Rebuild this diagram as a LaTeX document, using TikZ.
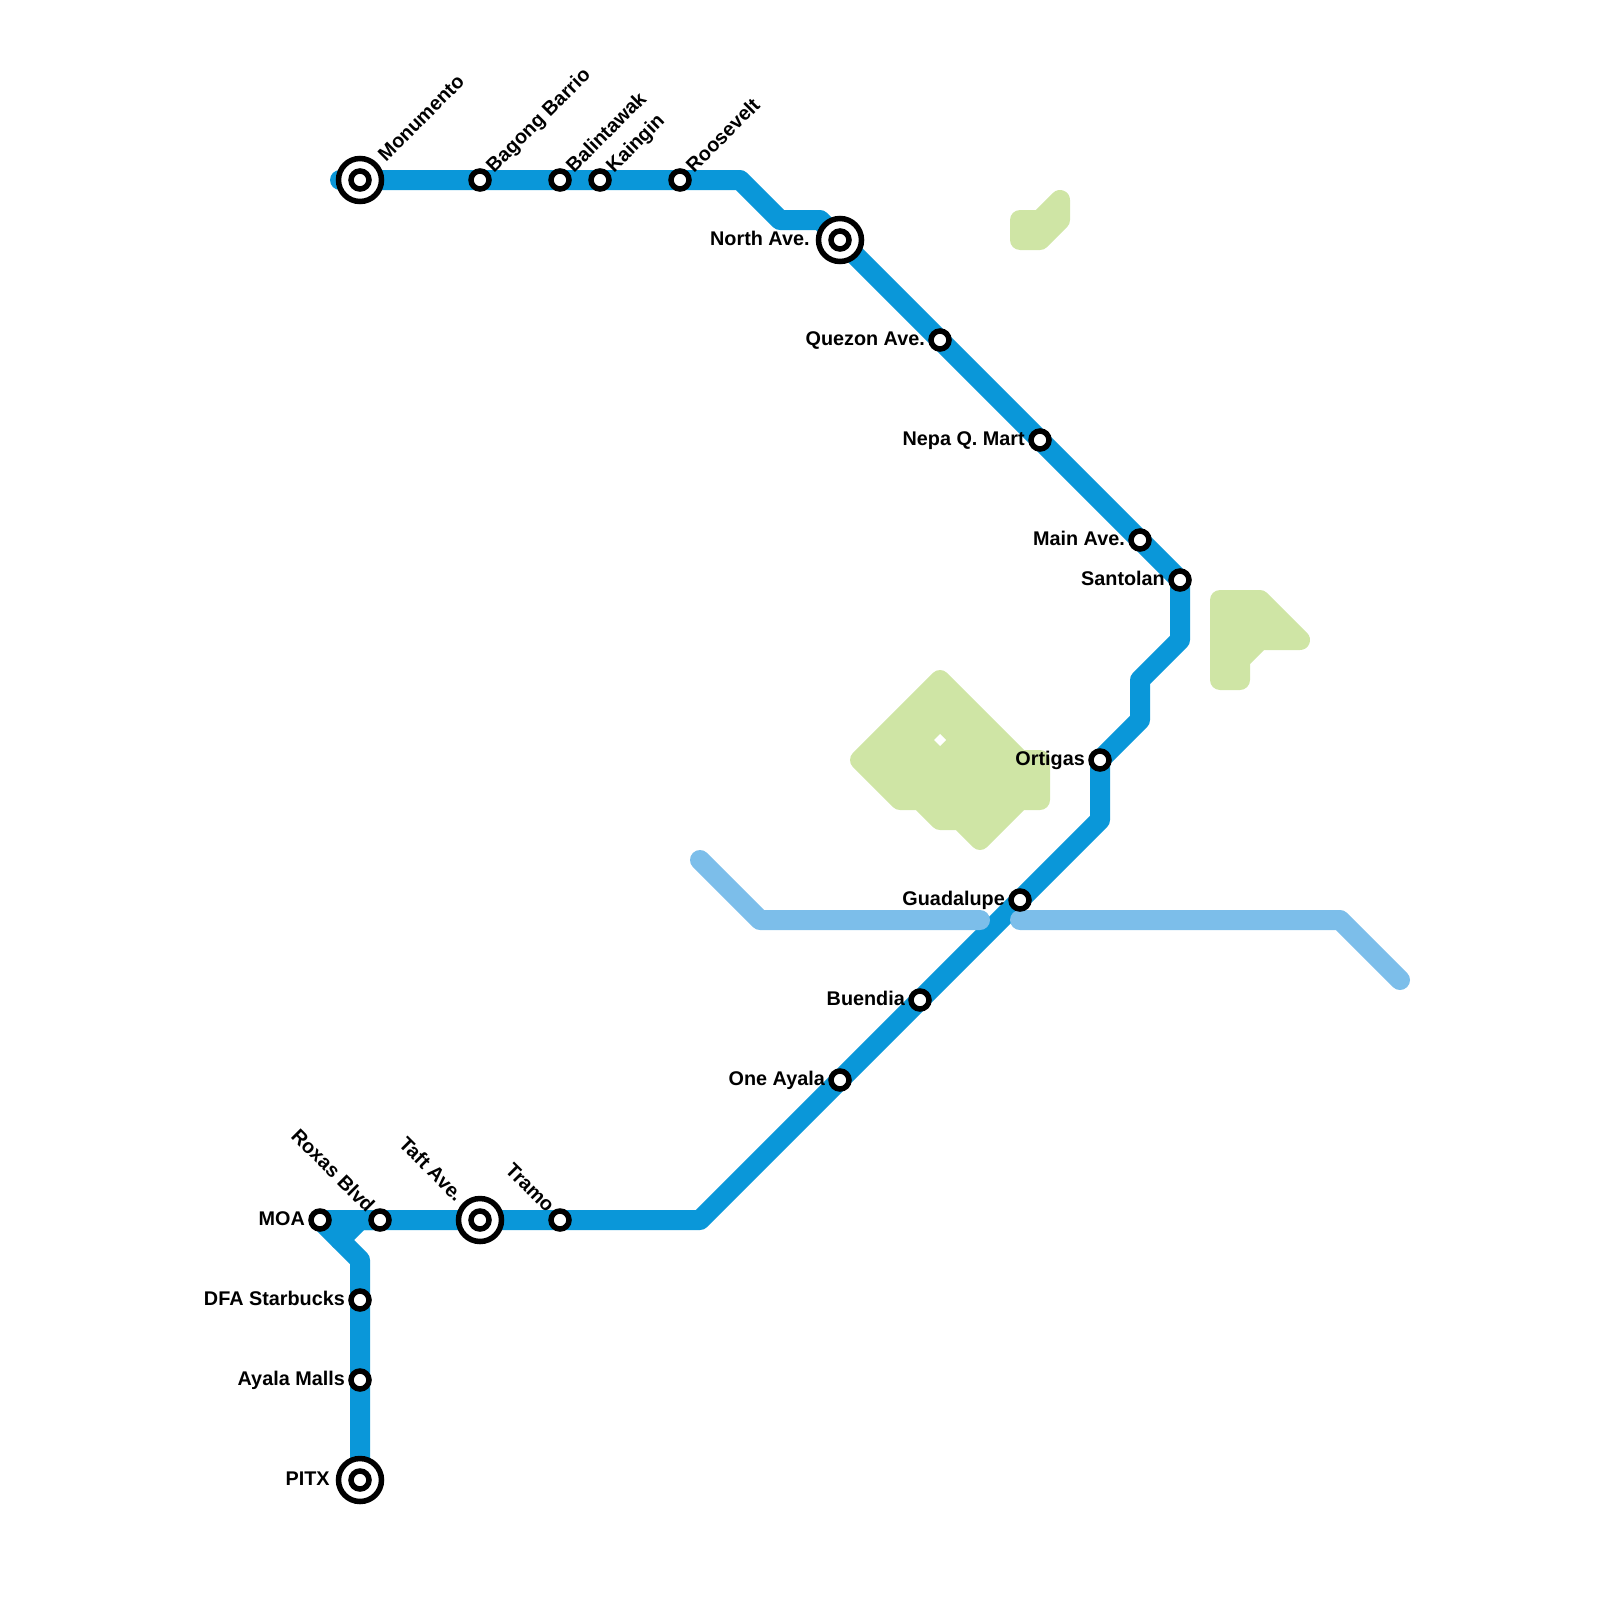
\documentclass[tikz,border=0pt]{standalone}
\usepackage{fontspec}
\setmainfont{Liberation Sans}
\usetikzlibrary{positioning,backgrounds}
\definecolor{route}{HTML}{0A97D9}
\definecolor{water}{HTML}{7CBEEA}
\definecolor{park}{HTML}{CFE5A5}
\tikzset{
  stn/.style={circle, draw=black, fill=white, line width=5.5pt, minimum size=18pt, inner sep=0pt},
  hub/.style={circle, draw=black, fill=white, line width=5.5pt, minimum size=43pt, inner sep=0pt},
  lbl/.style={inner sep=0pt, font=\bfseries\fontsize{19.8}{24}\selectfont, text height=14pt, text depth=4pt},
  up/.style={lbl, rotate=45, anchor=base west},
  back/.style={lbl, rotate=-45, anchor=base east},
  main/.style={draw=route, line width=20pt, line join=round, line cap=round},
  river/.style={draw=water, line width=20pt, line join=round, line cap=round},
  green/.style={draw=park, fill=park, line width=20pt, line join=round}
}

\begin{document}
\begin{tikzpicture}[x=1pt, y=-1pt]
  \useasboundingbox (0,0) rectangle (1600,1600);
  % top line
  \node[hub] (monumento) at (360,180) {};
  \node[stn] (monumentoc) at (monumento) {};
  \node[stn] (bagong) at (480,180) {};
  \node[stn] (balintawak) at (560,180) {};
  \node[stn] (kaingin) at (600,180) {};
  \node[stn] (roosevelt) at (680,180) {};
  \node[hub] (north) at (840,240) {};
  \node[stn] (northc) at (north) {};
  % long diagonal
  \node[stn] (quezon) at (940,340) {};
  \node[stn] (nepa) at (1040,440) {};
  \node[stn] (mainave) at (1140,540) {};
  \node[stn] (santolan) at (1180,580) {};
  \node[stn] (ortigas) at (1100,760) {};
  \node[stn] (guadalupe) at (1020,900) {};
  \node[stn] (buendia) at (920,1000) {};
  \node[stn] (ayala) at (840,1080) {};
  % bottom line
  \node[stn] (tramo) at (560,1220) {};
  \node[hub] (taft) at (480,1220) {};
  \node[stn] (taftc) at (taft) {};
  \node[stn] (roxas) at (380,1220) {};
  \node[stn] (moa) at (320,1220) {};
  \node[stn] (dfa) at (360,1300) {};
  \node[stn] (malls) at (360,1380) {};
  \node[hub] (pitx) at (360,1480) {};
  \node[stn] (pitxc) at (pitx) {};
  % labels
  \node[up] at ([xshift=26pt,yshift=17.5pt]monumento.center) {Monumento};
  \node[up] at ([xshift=14pt,yshift=6.5pt]bagong.center) {Bagong Barrio};
  \node[up] at ([xshift=14pt,yshift=6.5pt]balintawak.center) {Balintawak};
  \node[up] at ([xshift=14pt,yshift=6.5pt]kaingin.center) {Kaingin};
  \node[up] at ([xshift=14pt,yshift=6.5pt]roosevelt.center) {Roosevelt};
  \node[lbl, left=6pt of north] (northl) {North Ave.};
  \node[lbl, left=3.25pt of quezon] (quezonl) {Quezon Ave.};
  \node[lbl, left=3.25pt of nepa] (nepal) {Nepa Q. Mart};
  \node[lbl, left=3.25pt of mainave] (mainl) {Main Ave.};
  \node[lbl, left=3.25pt of santolan] (santolanl) {Santolan};
  \node[lbl, left=3.25pt of ortigas] (ortigasl) {Ortigas};
  \node[lbl, left=3.25pt of guadalupe] (guadalupel) {Guadalupe};
  \node[lbl, left=3.25pt of buendia] (buendial) {Buendia};
  \node[lbl, left=3.25pt of ayala] (ayalal) {One Ayala};
  \node[back] at ([xshift=-13.5pt,yshift=6.5pt]tramo.center) {Tramo};
  \node[back] at ([xshift=-24.5pt,yshift=17pt]taft.center) {Taft Ave.};
  \node[back] at ([xshift=-13.5pt,yshift=6.5pt]roxas.center) {Roxas Blvd};
  \node[lbl, left=3.25pt of moa] (moal) {MOA};
  \node[lbl, left=3.25pt of dfa] (dfal) {DFA Starbucks};
  \node[lbl, left=3.25pt of malls] (mallsl) {Ayala Malls};
  \node[lbl, left=6pt of pitx] (pitxl) {PITX};

  \begin{scope}[on background layer]
    \coordinate (topstart) at (340,180);
    \coordinate (bend1) at (740,180);
    \coordinate (bend2) at (780,220);
    \coordinate (bend3) at (820,220);
    \coordinate (bend4) at (1180,640);
    \coordinate (bend5) at (1140,680);
    \coordinate (bend6) at (1140,720);
    \coordinate (bend7) at (1100,820);
    \coordinate (bend8) at (700,1220);
    \coordinate (fork) at (360,1260);
    \coordinate (forka) at (360,1220);
    \coordinate (forkb) at (340,1240);
    \coordinate (riv1) at (700,860);
    \coordinate (riv2) at (760,920);
    \coordinate (riv3) at (980,920);
    \coordinate (riv4) at (1020,920);
    \coordinate (riv5) at (1340,920);
    \coordinate (riv6) at (1400,980);
    % parks
    \path[green] (940,680) -- (860,760) -- (900,800) -- (920,800) -- (940,820) -- (960,820)
      -- (980,840) -- (1020,800) -- (1040,800) -- (1040,760) -- (1020,760) -- cycle;
    \fill[white] (940,734) -- (946,740) -- (940,746) -- (934,740) -- cycle;
    \path[green] (1020,220) -- (1020,240) -- (1040,240) -- (1060,220) -- (1060,200) -- (1040,220) -- cycle;
    \path[green] (1220,600) -- (1260,600) -- (1300,640) -- (1260,640) -- (1240,660) -- (1240,680) -- (1220,680) -- cycle;
    % route
    \draw[main] (topstart) -- (bend1) -- (bend2) -- (bend3) -- (north.center) -- (santolan.center) -- (bend4)
      -- (bend5) -- (bend6) -- (ortigas.center) -- (bend7) -- (bend8) -- (moa.center)
      -- (fork) -- (pitx.center);
    \draw[main] (roxas.center) -- (forka) -- (forkb);
    % river
    \draw[river] (riv1) -- (riv2) -- (riv3);
    \draw[river] (riv4) -- (riv5) -- (riv6);
  \end{scope}
\end{tikzpicture}
\end{document}
